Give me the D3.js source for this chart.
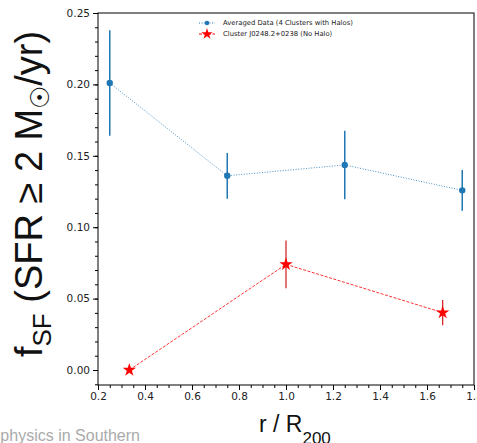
<!DOCTYPE html>
<html><head><meta charset="utf-8">
<script src="https://cdn.jsdelivr.net/npm/d3@7"></script>
<style>body{margin:0;background:#fff;} svg{display:block;}</style>
</head><body>
<svg id="c" width="477" height="443"></svg>
<script>
// Data
const haloX = [0.25, 0.75, 1.25, 1.75];
const haloY = [0.201, 0.136, 0.1436, 0.1258];
const haloErr = [0.037, 0.016, 0.024, 0.0142];
const noHaloX = [1/3, 1.0, 5/3];
const noHaloY = [0.0, 0.074, 0.0402];
const noHaloErr = [0, 0.0167, 0.0088];
const xTicks = [0.2, 0.4, 0.6, 0.8, 1.0, 1.2, 1.4, 1.6, 1.8];
const yTicks = [0.00, 0.05, 0.10, 0.15, 0.20, 0.25];
const legendLabels = ["Averaged Data (4 Clusters with Halos)", "Cluster J0248.2+0238 (No Halo)"];

const svg = d3.select("#c");
const L = 98, R = 474, T = 13, B = 385;
const x = d3.scaleLinear().domain([0.2, 1.8]).range([L, R]);
const y = d3.scaleLinear().domain([-0.0105, 0.25]).range([B, T]);

const blue = "#1f77b4", red = "#ff0000";

// frame
svg.append("rect").attr("x", L).attr("y", T).attr("width", R - L).attr("height", B - T)
  .attr("fill", "none").attr("stroke", "#000").attr("stroke-width", 1);

// axes
const xMinor = d3.range(0.2, 1.8001, 0.05);
const yMinor = d3.range(-0.01, 0.2501, 0.01);
svg.append("g").attr("transform", `translate(0,${B})`)
  .call(d3.axisBottom(x).tickValues(xMinor).tickSize(3).tickFormat(""))
  .call(g => g.select(".domain").remove());
svg.append("g").attr("transform", `translate(0,${B})`)
  .call(d3.axisBottom(x).tickValues(xTicks).tickSize(5).tickPadding(3).tickFormat(d3.format(".1f")))
  .call(g => g.select(".domain").remove())
  .call(g => g.selectAll("text").attr("font-family", "DejaVu Sans").attr("font-size", 10.5).attr("fill", "#222"));
svg.append("g").attr("transform", `translate(${L},0)`)
  .call(d3.axisLeft(y).tickValues(yMinor).tickSize(3).tickFormat(""))
  .call(g => g.select(".domain").remove());
svg.append("g").attr("transform", `translate(${L},0)`)
  .call(d3.axisLeft(y).tickValues(yTicks).tickSize(5).tickPadding(3).tickFormat(d3.format(".2f")))
  .call(g => g.select(".domain").remove())
  .call(g => g.selectAll("text").attr("font-family", "DejaVu Sans").attr("font-size", 10.5).attr("fill", "#222"));

const plot = svg.append("g");

// series
const halo = haloX.map((d, i) => ({x: d, y: haloY[i], e: haloErr[i]}));
const noHalo = noHaloX.map((d, i) => ({x: d, y: noHaloY[i], e: noHaloErr[i]}));
const line = d3.line().x(d => x(d.x)).y(d => y(d.y));

plot.append("path").datum(halo).attr("d", line).attr("fill", "none")
  .attr("stroke", blue).attr("stroke-width", 1).attr("stroke-dasharray", "1,1.6").attr("opacity", 0.8);
plot.selectAll(".eb").data(halo).join("line")
  .attr("x1", d => x(d.x)).attr("x2", d => x(d.x))
  .attr("y1", d => y(d.y + d.e)).attr("y2", d => y(d.y - d.e))
  .attr("stroke", blue).attr("stroke-width", 1.5);
plot.selectAll(".pt").data(halo).join("circle")
  .attr("cx", d => x(d.x)).attr("cy", d => y(d.y)).attr("r", 3.2).attr("fill", blue);

plot.append("path").datum(noHalo).attr("d", line).attr("fill", "none")
  .attr("stroke", red).attr("stroke-width", 1).attr("stroke-dasharray", "3,1.5").attr("opacity", 0.8);
plot.selectAll(".eb2").data(noHalo.filter(d => d.e > 0)).join("line")
  .attr("x1", d => x(d.x)).attr("x2", d => x(d.x))
  .attr("y1", d => y(d.y + d.e)).attr("y2", d => y(d.y - d.e))
  .attr("stroke", "#d42a2a").attr("stroke-width", 1.3);
const star = d3.symbol().type(d3.symbolStar).size(55);
plot.selectAll(".st").data(noHalo).join("path")
  .attr("d", star).attr("transform", d => `translate(${x(d.x)},${y(d.y)})`).attr("fill", red);

// legend
const lg = svg.append("g").attr("font-family", "DejaVu Sans").attr("font-size", 6.8).attr("fill", "#222");
const ly = [23, 34];
lg.append("line").attr("x1", 199).attr("x2", 215).attr("y1", ly[0]).attr("y2", ly[0])
  .attr("stroke", blue).attr("stroke-width", 1).attr("stroke-dasharray", "1,1.6");
lg.append("circle").attr("cx", 207).attr("cy", ly[0]).attr("r", 2.3).attr("fill", blue);
lg.append("line").attr("x1", 199).attr("x2", 215).attr("y1", ly[1]).attr("y2", ly[1])
  .attr("stroke", red).attr("stroke-width", 1).attr("stroke-dasharray", "3,1.5");
lg.append("path").attr("d", d3.symbol().type(d3.symbolStar).size(40)).attr("transform", `translate(207,${ly[1]})`).attr("fill", red);
legendLabels.forEach((t, i) => {
  lg.append("text").attr("x", 223).attr("y", ly[i] + 2.4).text(t);
});

// x label
const xl = svg.append("text").attr("x", 259).attr("y", 432)
  .attr("font-family", "Liberation Sans, Arial, sans-serif").attr("font-size", 23).attr("fill", "#111");
xl.append("tspan").text("r / R");
xl.append("tspan").attr("font-size", 17).attr("dy", 12).text("200");

// y label
const yl = svg.append("text").attr("transform", "translate(42,194) rotate(-90)")
  .attr("text-anchor", "middle")
  .attr("font-family", "Liberation Sans, Arial, sans-serif").attr("font-size", 38).attr("fill", "#111");
yl.append("tspan").text("f");
yl.append("tspan").attr("font-size", 26).attr("dy", 9).text("SF");
yl.append("tspan").attr("dy", -9).text(" (SFR \u2265 2 M");
yl.append("tspan").attr("font-size", 26).attr("dy", 7).text("\u2609");
yl.append("tspan").attr("dy", -7).text("/yr)");

// watermark fragment
svg.append("text").attr("x", 140).attr("y", 441).attr("text-anchor", "end")
  .attr("font-family", "Liberation Sans, Arial, sans-serif").attr("font-size", 16).attr("fill", "#aaaaaa")
  .text("physics in Southern");
</script>
</body></html>
